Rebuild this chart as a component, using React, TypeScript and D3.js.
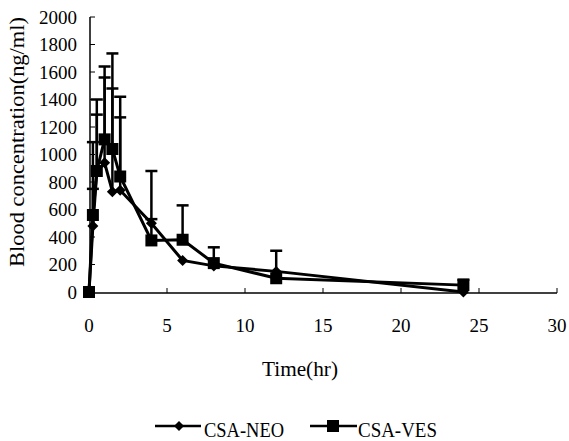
import React from "react";
import * as d3 from "d3";

const times = [0, 0.25, 0.5, 1, 1.5, 2, 4, 6, 8, 12, 24];
const neoMean = [0, 480, 870, 940, 730, 740, 500, 230, 190, 150, 0];
const neoSD = [0, 270, 420, 620, 750, 530, 30, 0, 0, 0, 0];
const vesMean = [0, 560, 880, 1110, 1040, 840, 375, 380, 210, 100, 50];
const vesSD = [0, 530, 520, 530, 695, 580, 505, 250, 115, 200, 40];
const xTicks = [0, 5, 10, 15, 20, 25, 30];
const yTicks = [0, 200, 400, 600, 800, 1000, 1200, 1400, 1600, 1800, 2000];
const seriesNames = ["CSA-NEO", "CSA-VES"];

const FONT = "'Liberation Serif', 'Times New Roman', serif";

export default function App() {
  const W = 569, H = 441;
  const x = d3.scaleLinear().domain([0, 30]).range([89, 557]);
  const y = d3.scaleLinear().domain([0, 2000]).range([292, 17]);
  const line = d3.line<number>().x((_, i) => x(times[i])).y((d) => y(d));

  const errBars = (mean: number[], sd: number[], key: string) =>
    mean.map((m, i) =>
      sd[i] > 0 ? (
        <g key={key + i} stroke="#000" strokeWidth={2.5}>
          <line x1={x(times[i])} x2={x(times[i])} y1={y(m)} y2={y(m + sd[i])} />
          <line x1={x(times[i]) - 6} x2={x(times[i]) + 6} y1={y(m + sd[i])} y2={y(m + sd[i])} />
        </g>
      ) : null
    );

  const diamond = (cx: number, cy: number, k: string, s = 5.5) => (
    <path key={k} d={`M${cx},${cy - s}L${cx + s},${cy}L${cx},${cy + s}L${cx - s},${cy}Z`} fill="#000" />
  );
  const square = (cx: number, cy: number, k: string, s = 6) => (
    <rect key={k} x={cx - s} y={cy - s} width={2 * s} height={2 * s} fill="#000" />
  );

  return (
    <svg width={W} height={H} style={{ position: "absolute", left: 0, top: 0, background: "#fff" }}>
      {/* axes */}
      <line x1={90} x2={90} y1={17} y2={293} stroke="#000" strokeWidth={1.5} />
      <line x1={89} x2={557} y1={293} y2={293} stroke="#000" strokeWidth={1.5} />
      {yTicks.map((t) => (
        <g key={"yt" + t}>
          <line x1={90} x2={95} y1={y(t)} y2={y(t)} stroke="#000" strokeWidth={1} />
          <text x={77} y={y(t)} dy="0.35em" textAnchor="end" fontFamily={FONT} fontSize={19}>
            {t}
          </text>
        </g>
      ))}
      {xTicks.map((t) => (
        <g key={"xt" + t}>
          <line x1={x(t)} x2={x(t)} y1={293} y2={288} stroke="#000" strokeWidth={1} />
          <text x={x(t)} y={332} textAnchor="middle" fontFamily={FONT} fontSize={19}>
            {t}
          </text>
        </g>
      ))}
      <text
        transform="translate(24,142) rotate(-90)"
        textAnchor="middle"
        fontFamily={FONT}
        fontSize={20}
        textLength={250}
        lengthAdjust="spacingAndGlyphs"
      >
        Blood concentration(ng/ml)
      </text>
      <text x={300} y={376} textAnchor="middle" fontFamily={FONT} fontSize={22} textLength={76} lengthAdjust="spacingAndGlyphs">
        Time(hr)
      </text>

      {errBars(neoMean, neoSD, "ne")}
      {errBars(vesMean, vesSD, "ve")}
      <path d={line(neoMean) || ""} fill="none" stroke="#000" strokeWidth={3} />
      <path d={line(vesMean) || ""} fill="none" stroke="#000" strokeWidth={3} />
      {neoMean.map((v, i) => diamond(x(times[i]), y(v), "d" + i))}
      {vesMean.map((v, i) => square(x(times[i]), y(v), "s" + i))}

      {/* legend */}
      <line x1={155} x2={201} y1={426} y2={426} stroke="#000" strokeWidth={2.5} />
      {diamond(179, 426, "ld", 5)}
      <text x={204} y={437} fontFamily={FONT} fontSize={20} textLength={80} lengthAdjust="spacingAndGlyphs">
        {seriesNames[0]}
      </text>
      <line x1={310} x2={357} y1={426} y2={426} stroke="#000" strokeWidth={2.5} />
      {square(333, 426, "ls", 6)}
      <text x={358} y={437} fontFamily={FONT} fontSize={20} textLength={79} lengthAdjust="spacingAndGlyphs">
        {seriesNames[1]}
      </text>
    </svg>
  );
}
